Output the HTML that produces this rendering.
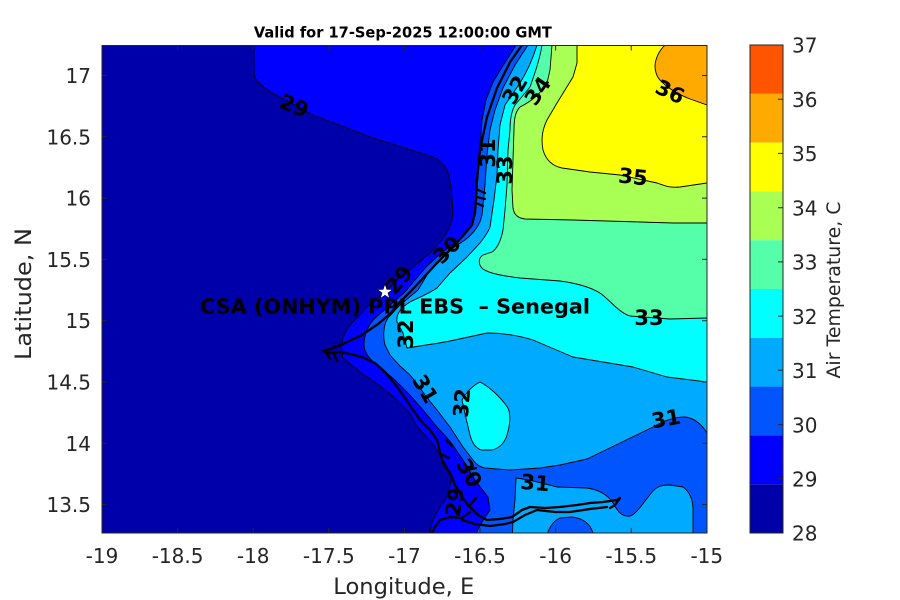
<!DOCTYPE html>
<html>
<head>
<meta charset="utf-8">
<style>
html,body{margin:0;padding:0;background:#fff;}
svg{display:block;}
text{font-family:"DejaVu Sans","Liberation Sans",sans-serif;}
</style>
</head>
<body>
<svg width="900" height="600" viewBox="0 0 900 600" xmlns="http://www.w3.org/2000/svg">
<defs>
<clipPath id="clip"><rect x="102" y="45.5" width="605" height="487.5"/></clipPath>
<path id="p29" d="M254,30 L254,73 C254,80 262,88 280,97 L313,115 L373,138 L433,157 C445,162 450,170 452,197 L453,213 C452,225 447,233 440,242 L430,253 L413,267 L400,277 L385,292 L367,307 L350,325 C342,335 340,345 343,358 L360,372 L380,386 L395,398 L408,411 L418,428 L432,443 L443,460 L452,476 L448,495 L438,510 L432,522 L428,545 L720,545 L720,30 Z"/>
<path id="p30" d="M516,30 L516,45 C510,55 500,70 493,82 L486,100 L482,120 L480,150 L478,175 L476,200 L474,218 C472,226 465,236 455,243 L440,254 L427,266 L415,280 L405,292 L390,305 L375,318 C368,325 364,335 364,345 C364,352 370,360 378,366 L395,380 L410,395 L423,410 L437,427 L450,441 L463,460 L475,480 L488,497 L490,510 L482,522 L470,545 L720,545 L720,30 Z"/>
<path id="p31" d="M528,30 L528,45 L515,65 L503,88 L495,110 L490,130 L487,155 L485,185 L482,215 C480,225 474,233 465,240 L450,250 L437,262 L427,275 L418,290 L400,305 L388,318 C383,325 383,338 385,345 L390,355 L400,366 L410,375 L418,385 L425,395 L437,410 L450,427 L463,447 L473,460 C477,465 480,467 485,468 L510,470 L540,468 L560,465 L587,459 L620,443 L653,427 C665,420 675,417 685,417 C695,418 702,425 707,433 L720,445 L720,30 Z"/>
<path id="p31b" d="M516,478 C525,479 535,481 557,487 L587,488 C600,490 608,495 613,503 C618,512 622,517 630,516 C637,514 645,500 653,491 C658,486 662,485 670,485 L683,487 C690,492 693,500 693,510 L693,545 L512,545 L513,520 L515,500 Z"/>
<path id="p30b" d="M545,545 C546,535 550,522 560,518 L572,517 C582,518 590,523 593,533 L595,545 Z"/>
<path id="p32" d="M537,30 L537,45 C534,55 528,70 520,83 L505,105 L500,125 L498,150 L497,175 L494,200 L490,227 C487,235 482,240 480,243 L467,257 L450,273 L437,288 C430,293 420,297 410,302 C400,308 396,315 397,322 L403,333 L407,348 C420,346 440,343 450,341 L487,333 C505,333 520,336 533,340 L573,357 L633,367 L667,377 L707,382 L720,383 L720,30 Z"/>
<path id="p32i" d="M480,382 C488,386 500,396 508,408 C511,415 510,425 507,435 C505,442 500,448 492,450 L481,450 C476,448 472,443 470,435 L466,418 L462,400 C466,393 472,386 480,382 Z"/>
<path id="p33" d="M542,30 L542,45 C540,58 536,70 530,87 L515,105 C511,112 510,120 510,130 L508,150 L507,185 L505,210 L503,230 C501,240 498,248 492,252 L483,255 C478,258 478,265 483,269 C490,274 505,276 520,278 L560,281 C575,283 590,287 600,293 C610,300 618,312 630,316 L670,319 L707,318 L720,318 L720,30 Z"/>
<path id="p34" d="M552,30 L552,45 L550,70 L547,83 C540,95 530,102 520,107 C515,112 514,120 514,130 L513,160 L512,190 L513,208 C514,215 518,218 525,219 L573,220 L640,222 L673,223 L707,223 L720,223 L720,30 Z"/>
<path id="p35" d="M577,30 L577,63 L573,77 L565,90 L557,103 L547,120 C542,130 541,140 543,150 C546,160 552,166 562,168 L590,172 L620,175 L657,183 C665,186 670,188 680,187 L707,183 L720,183 L720,30 Z"/>
<path id="p36" d="M665,30 L665,45 C660,50 656,56 655,65 C655,72 657,78 662,82 C670,90 680,95 690,99 L707,105 L720,108 L720,30 Z"/>
</defs>

<rect width="900" height="600" fill="#fff"/>

<g clip-path="url(#clip)">
  <rect x="100" y="40" width="620" height="500" fill="#0000AA"/>
  <use href="#p29" fill="#0000FF"/>
  <use href="#p30" fill="#0055FF"/>
  <use href="#p31" fill="#00AAFF"/>
  <use href="#p31b" fill="#00AAFF"/>
  <use href="#p30b" fill="#0055FF"/>
  <use href="#p32" fill="#00FFFF"/>
  <use href="#p32i" fill="#00FFFF"/>
  <use href="#p33" fill="#55FFAA"/>
  <use href="#p34" fill="#AAFF55"/>
  <use href="#p35" fill="#FFFF00"/>
  <use href="#p36" fill="#FFAA00"/>

  <g fill="none" stroke="#000" stroke-width="0.9" stroke-linejoin="round">
    <use href="#p29"/><use href="#p30"/><use href="#p31"/><use href="#p31b"/><use href="#p30b"/>
    <use href="#p32"/><use href="#p32i"/><use href="#p33"/><use href="#p34"/><use href="#p35"/><use href="#p36"/>
  </g>

  <!-- coastline -->
  <g fill="none" stroke="#000" stroke-width="2.3" stroke-linejoin="round" stroke-linecap="round">
    <path d="M522,45 L510,62 L497,88 L487,117 L480,150 L477,180 L476,200 L475,213 L472,225 L462,237 L450,250 L437,263 L425,276 L412,290 L400,302 L390,314 L378,324 L362,335 L345,343 L330,349 L323,351 L330,353 L340,352 L350,354 L362,357 L375,363 L385,372 L395,384 L405,398 L413,410 L420,420 L430,430 L437,440 L440,452 L443,463 L450,473 L455,485 L462,497 L468,505 L478,515 L487,520 L500,519 L512,517 L522,510 L530,507 L545,508 L560,507 L577,505 L590,503 L603,502 L617,500 L620,498 L615,505 L610,508"/>
    <path d="M462,520 L475,524 L490,526 L505,524 L513,522 L525,515 L537,510 L555,512 L570,512 L590,509 L607,507"/>
    <path d="M470,512 L462,518 L450,517 L440,520 L435,527 L432,533"/>
    <path d="M478,190 L485,193 M477,197 L485,199 M476,203 L483,206"/>
    <path d="M326,352 L330,359 M334,354 L337,361"/>
    <path d="M446,440 L452,446 M443,455 L449,458 M468,470 L476,468 M470,505 L476,498"/>
  </g>

  <!-- contour labels -->
  <g font-weight="bold" font-size="21" fill="#000" text-anchor="middle" dominant-baseline="central">
    <text transform="translate(294,106) rotate(22)">29</text>
    <text transform="translate(399,280) rotate(-50)">29</text>
    <text transform="translate(447,250) rotate(-45)">30</text>
    <text transform="translate(488,153) rotate(-90)">31</text>
    <text transform="translate(505,170) rotate(-90)">33</text>
    <text transform="translate(515,90) rotate(-60)">32</text>
    <text transform="translate(538,91) rotate(-55)">34</text>
    <text transform="translate(633,177) rotate(6)">35</text>
    <text transform="translate(670,92) rotate(25)">36</text>
    <text transform="translate(649,318)">33</text>
    <text transform="translate(406,334) rotate(-90)">32</text>
    <text transform="translate(425,389) rotate(60)">31</text>
    <text transform="translate(462,403) rotate(-85)">32</text>
    <text transform="translate(666,419) rotate(-10)">31</text>
    <text transform="translate(535,483) rotate(5)">31</text>
    <text transform="translate(469,473) rotate(60)">30</text>
    <text transform="translate(455,502) rotate(-80)">29</text>
  </g>

  <!-- station marker -->
  <polygon points="385,284 386.9,289.4 392.6,289.5 388,293 389.7,298.5 385,295.2 380.3,298.5 382,293 377.4,289.5 383.1,289.4" fill="#fff" stroke="#000" stroke-width="0.6"/>
  <text x="200" y="313.5" font-size="20" font-weight="bold" fill="#000" textLength="390" lengthAdjust="spacingAndGlyphs" style="white-space:pre">CSA (ONHYM) PPL EBS  – Senegal</text>
</g>

<!-- axes frame -->
<rect x="102" y="45.5" width="605" height="487.5" fill="none" stroke="#262626" stroke-width="1"/>
<g stroke="#262626" stroke-width="1">
  <path d="M177.6,533 V528 M253.2,533 V528 M328.8,533 V528 M404.4,533 V528 M480,533 V528 M555.6,533 V528 M631.2,533 V528"/>
  <path d="M177.6,45.5 V50.5 M253.2,45.5 V50.5 M328.8,45.5 V50.5 M404.4,45.5 V50.5 M480,45.5 V50.5 M555.6,45.5 V50.5 M631.2,45.5 V50.5"/>
  <path d="M102,75.5 H107 M102,136.8 H107 M102,198.1 H107 M102,259.4 H107 M102,320.7 H107 M102,382 H107 M102,443.3 H107 M102,504.6 H107"/>
  <path d="M707,75.5 H702 M707,136.8 H702 M707,198.1 H702 M707,259.4 H702 M707,320.7 H702 M707,382 H702 M707,443.3 H702 M707,504.6 H702"/>
</g>

<!-- tick labels -->
<g font-size="20" fill="#262626" text-anchor="middle">
  <text x="102" y="563">-19</text>
  <text x="177.6" y="563">-18.5</text>
  <text x="253.2" y="563">-18</text>
  <text x="328.8" y="563">-17.5</text>
  <text x="404.4" y="563">-17</text>
  <text x="480" y="563">-16.5</text>
  <text x="555.6" y="563">-16</text>
  <text x="631.2" y="563">-15.5</text>
  <text x="706.8" y="563">-15</text>
</g>
<g font-size="20" fill="#262626" text-anchor="end">
  <text x="91" y="83">17</text>
  <text x="91" y="144.3">16.5</text>
  <text x="91" y="205.6">16</text>
  <text x="91" y="266.9">15.5</text>
  <text x="91" y="328.2">15</text>
  <text x="91" y="389.5">14.5</text>
  <text x="91" y="450.8">14</text>
  <text x="91" y="512.1">13.5</text>
</g>

<text x="403.8" y="594" font-size="22" fill="#262626" text-anchor="middle" textLength="141" lengthAdjust="spacingAndGlyphs">Longitude, E</text>
<text transform="translate(31,294) rotate(-90)" font-size="22" fill="#262626" text-anchor="middle" textLength="132" lengthAdjust="spacingAndGlyphs">Latitude, N</text>

<text x="402.9" y="37.7" font-size="15" font-weight="bold" fill="#000" text-anchor="middle" textLength="298" lengthAdjust="spacingAndGlyphs">Valid for 17-Sep-2025 12:00:00 GMT</text>

<!-- colorbar -->
<g>
  <rect x="750" y="45" width="33" height="48.8" fill="#FF5500"/>
  <rect x="750" y="93.8" width="33" height="48.8" fill="#FFAA00"/>
  <rect x="750" y="142.6" width="33" height="48.8" fill="#FFFF00"/>
  <rect x="750" y="191.4" width="33" height="48.8" fill="#AAFF55"/>
  <rect x="750" y="240.2" width="33" height="48.8" fill="#55FFAA"/>
  <rect x="750" y="289" width="33" height="48.8" fill="#00FFFF"/>
  <rect x="750" y="337.8" width="33" height="48.8" fill="#00AAFF"/>
  <rect x="750" y="386.6" width="33" height="48.8" fill="#0055FF"/>
  <rect x="750" y="435.4" width="33" height="48.8" fill="#0000FF"/>
  <rect x="750" y="484.2" width="33" height="48.8" fill="#0000AA"/>
  <rect x="750" y="45" width="33" height="488" fill="none" stroke="#262626" stroke-width="1"/>
  <path d="M783,99.2 H778 M783,153.4 H778 M783,207.7 H778 M783,261.9 H778 M783,316.1 H778 M783,370.3 H778 M783,424.6 H778 M783,478.8 H778" stroke="#262626" stroke-width="1"/>
</g>
<g font-size="20" fill="#262626" text-anchor="start">
  <text x="792" y="52.7">37</text>
  <text x="792" y="106.9">36</text>
  <text x="792" y="161.1">35</text>
  <text x="792" y="215.4">34</text>
  <text x="792" y="269.6">33</text>
  <text x="792" y="323.8">32</text>
  <text x="792" y="378">31</text>
  <text x="792" y="432.3">30</text>
  <text x="792" y="486.5">29</text>
  <text x="792" y="540.7">28</text>
</g>
<text transform="translate(840,290) rotate(-90)" font-size="19" fill="#262626" text-anchor="middle" textLength="177" lengthAdjust="spacingAndGlyphs">Air Temperature, C</text>
</svg>
</body>
</html>
